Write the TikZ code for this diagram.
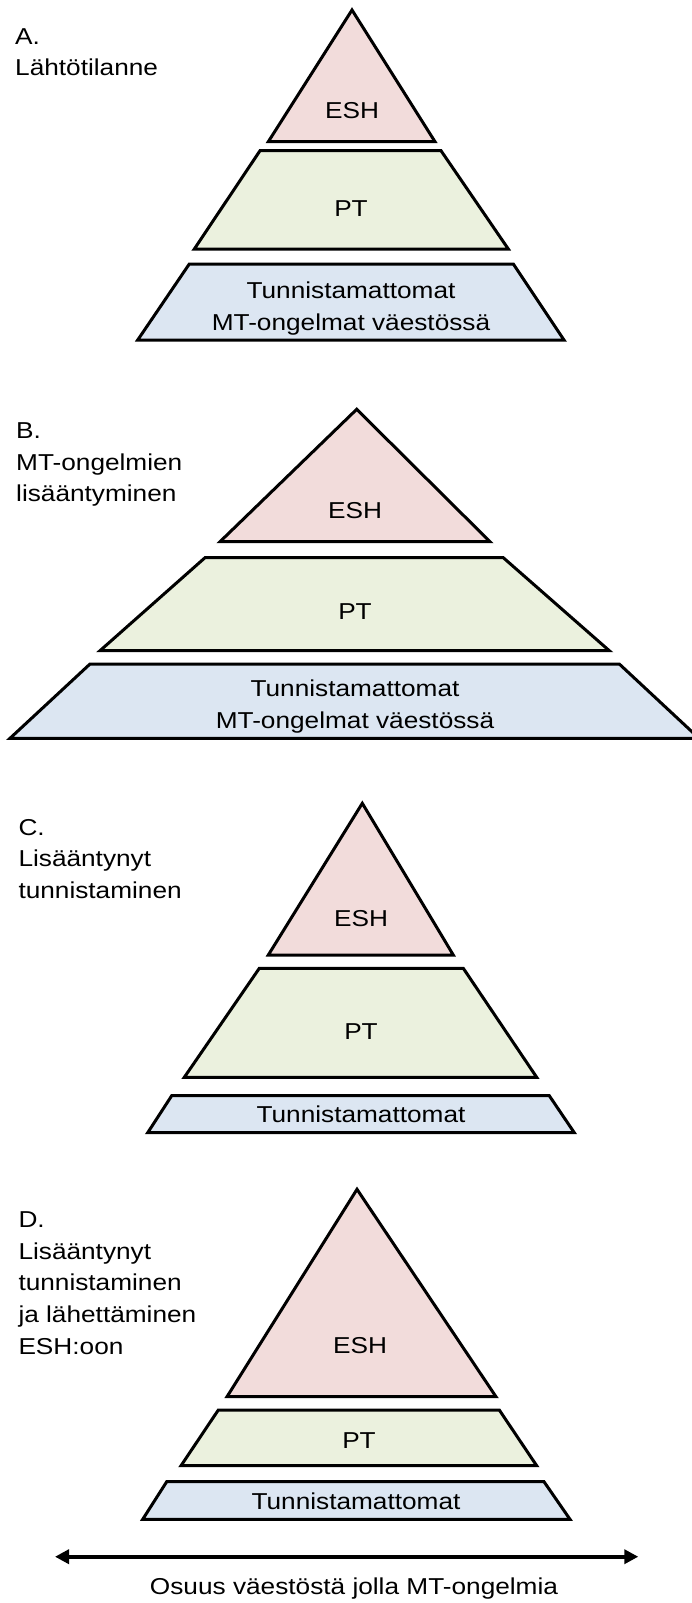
\documentclass[tikz,border=0pt]{standalone}
\usepackage{fontspec}
\setmainfont{Liberation Sans}[FakeStretch=1.14]
\usetikzlibrary{arrows.meta}
\definecolor{eshpink}{HTML}{F2DCDB}
\definecolor{ptgreen}{HTML}{EBF1DE}
\definecolor{tublue}{HTML}{DCE6F2}
\begin{document}
\begin{tikzpicture}[x=1pt,y=-1pt,
  layer/.style={draw=black, line width=3pt},
  lab/.style={font=\fontsize{23}{31.5}\selectfont, inner sep=0pt, anchor=base, align=center},
  side/.style={font=\fontsize{23}{31.6}\selectfont, inner sep=0pt, anchor=base west, align=left},
  axis/.style={line width=4pt, {Triangle[length=14pt,width=14pt]}-{Triangle[length=14pt,width=14pt]}}]
\useasboundingbox (0,0) rectangle (691,1603);
% ---------- A ----------
\filldraw[layer, fill=eshpink] (352,10) -- (435,141.7) -- (268.3,141.7) -- cycle;
\filldraw[layer, fill=ptgreen] (260,150.7) -- (441,150.7) -- (508.3,249) -- (194.3,249) -- cycle;
\filldraw[layer, fill=tublue] (189.3,264) -- (513.3,264) -- (564,340) -- (137.7,340) -- cycle;
\node[lab] (aesh) at (352,118.2) {ESH};
\node[lab] (apt) at (351,216.5) {PT};
\node[lab] (atu) at (351,330) {Tunnistamattomat\\MT-ongelmat väestössä};
\node[side] (atitle) at (15,76) {A.\\Lähtötilanne};
% ---------- B ----------
\filldraw[layer, fill=eshpink] (356.7,409.3) -- (490,541.7) -- (220,541.7) -- cycle;
\filldraw[layer, fill=ptgreen] (205,557.7) -- (503.3,557.7) -- (609.3,650.7) -- (100,650.7) -- cycle;
\filldraw[layer, fill=tublue] (90,664) -- (619.3,664) -- (699,738.3) -- (10,738.3) -- cycle;
\node[lab] (besh) at (355,518.2) {ESH};
\node[lab] (bpt) at (355,619.9) {PT};
\node[lab] (btu) at (355,728.2) {Tunnistamattomat\\MT-ongelmat väestössä};
\node[side] (btitle) at (16,501.7) {B.\\MT-ongelmien\\lisääntyminen};
% ---------- C ----------
\filldraw[layer, fill=eshpink] (362.3,803.3) -- (453.3,955) -- (268.3,955) -- cycle;
\filldraw[layer, fill=ptgreen] (259.3,968.3) -- (463.3,968.3) -- (536.7,1077.3) -- (184.3,1077.3) -- cycle;
\filldraw[layer, fill=tublue] (171.7,1095.7) -- (549.3,1095.7) -- (574.3,1132.7) -- (147.7,1132.7) -- cycle;
\node[lab] (cesh) at (361,926.5) {ESH};
\node[lab] (cpt) at (361,1039.9) {PT};
\node[lab] (ctu) at (361,1122.2) {Tunnistamattomat};
\node[side] (ctitle) at (18.3,898.3) {C.\\Lisääntynyt\\tunnistaminen};
% ---------- D ----------
\filldraw[layer, fill=eshpink] (357,1189.3) -- (496,1396.7) -- (227,1396.7) -- cycle;
\filldraw[layer, fill=ptgreen] (218.3,1410) -- (499.3,1410) -- (536.7,1465.7) -- (181,1465.7) -- cycle;
\filldraw[layer, fill=tublue] (166.7,1481.7) -- (544,1481.7) -- (570,1519.3) -- (142.7,1519.3) -- cycle;
\node[lab] (desh) at (360,1353.9) {ESH};
\node[lab] (dpt) at (359,1448.2) {PT};
\node[lab] (dtu) at (356,1509.2) {Tunnistamattomat};
\node[side] (dtitle) at (18.3,1354) {D.\\Lisääntynyt\\tunnistaminen\\ja lähettäminen\\ESH:oon};
% ---------- axis ----------
\coordinate (axl) at (55,1556.7);
\coordinate (axr) at (638.3,1556.7);
\draw[axis] (axl) -- (axr);
\node[lab] (axcap) at (354,1594.9) {Osuus väestöstä jolla MT-ongelmia};
\end{tikzpicture}
\end{document}
